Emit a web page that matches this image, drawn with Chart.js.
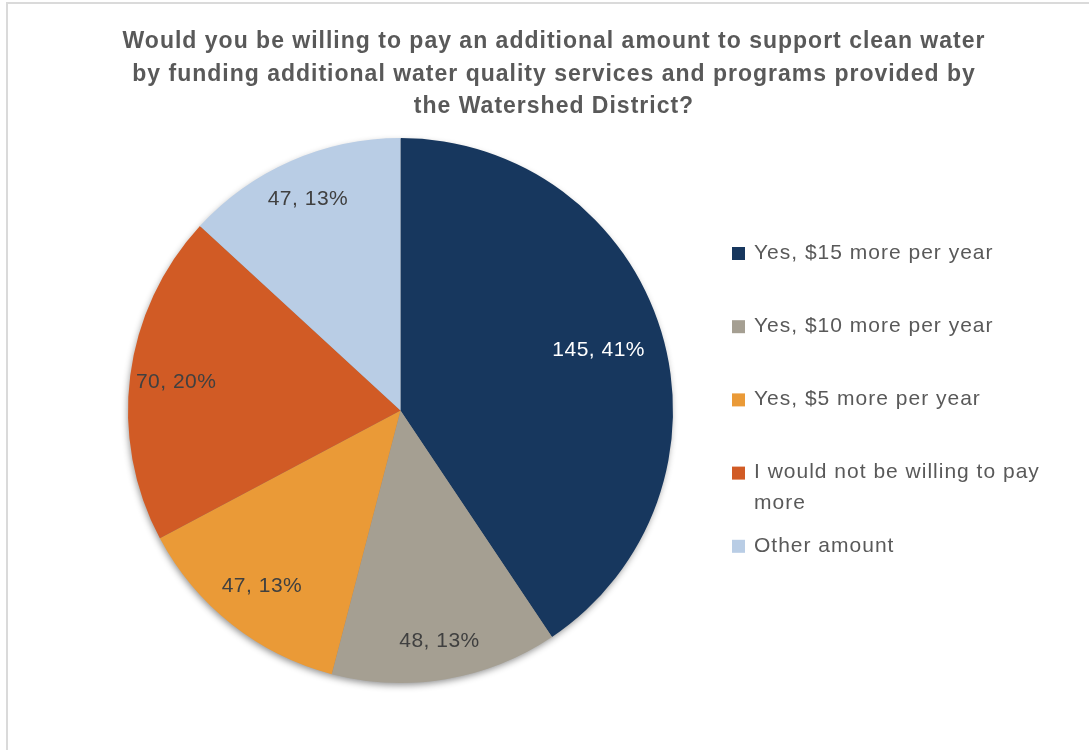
<!DOCTYPE html>
<html lang="en">
  <head>
    <meta charset="UTF-8" />
    <title>Willingness to pay for clean water</title>
    <script src="https://cdn.jsdelivr.net/npm/chart.js"></script>
    <style>
      html, body {
        margin: 0;
        padding: 0;
        background: #fff;
        overflow: hidden;
      }
      .wrap {
        position: relative;
        width: 1089px;
        height: 750px;
      }
      .frame {
        position: absolute;
        left: 6px;
        top: 2px;
        right: -10px;
        bottom: -10px;
        border-top: 2px solid #dadada;
        border-left: 2px solid #dadada;
        pointer-events: none;
      }
      canvas {
        position: absolute;
        left: 0;
        top: 0;
      }
    </style>
  </head>
  <body>
    <div class="wrap">
      <canvas id="pieChart" width="1089" height="750"></canvas>
      <div class="frame"></div>
    </div>

    <script>
      // survey answers
      const titleLines = [
        "Would you be willing to pay an additional amount to support clean water",
        "by funding additional water quality services and programs provided by",
        "the Watershed District?"
      ];
      const answers = [
        "Yes, $15 more per year",
        "Yes, $10 more per year",
        "Yes, $5 more per year",
        "I would not be willing to pay more",
        "Other amount"
      ];
      const counts = [145, 48, 47, 70, 47];

      const sliceColors = ["#17375e", "#a59f92", "#ea9a37", "#d15b25", "#b9cde5"];
      const labelColors = ["#ffffff", "#404040", "#404040", "#404040", "#404040"];
      // how far out (fraction of radius) each value label sits
      const labelDist = [0.76, 0.86, 0.82, 0.83, 0.845];

      const total = counts.reduce((a, b) => a + b, 0);
      const FONT = "'Liberation Sans', Arial, sans-serif";

      // soft shadow under the whole pie, drawn before the slices
      const pieShadow = {
        id: "pieShadow",
        beforeDatasetsDraw(chart) {
          const arc = chart.getDatasetMeta(0).data[0];
          if (!arc) return;
          const ctx = chart.ctx;
          ctx.save();
          ctx.shadowColor = "rgba(0, 0, 0, 0.45)";
          ctx.shadowBlur = 7;
          ctx.shadowOffsetX = -1;
          ctx.shadowOffsetY = 3;
          ctx.fillStyle = "#888";
          ctx.beginPath();
          ctx.arc(arc.x, arc.y, arc.outerRadius - 1, 0, Math.PI * 2);
          ctx.fill();
          ctx.restore();
        }
      };

      // "count, percent" inside each slice
      const valueLabels = {
        id: "valueLabels",
        afterDatasetsDraw(chart) {
          const ctx = chart.ctx;
          const meta = chart.getDatasetMeta(0);
          ctx.save();
          ctx.font = "21px " + FONT;
          ctx.letterSpacing = "0.5px";
          ctx.textAlign = "center";
          ctx.textBaseline = "middle";
          meta.data.forEach((arc, i) => {
            const mid = (arc.startAngle + arc.endAngle) / 2;
            const r = arc.outerRadius * labelDist[i];
            const pct = Math.round((counts[i] / total) * 100);
            ctx.fillStyle = labelColors[i];
            ctx.fillText(counts[i] + ", " + pct + "%", arc.x + Math.cos(mid) * r, arc.y + Math.sin(mid) * r);
          });
          ctx.restore();
        }
      };

      function wrapText(ctx, text, maxWidth) {
        const words = text.split(" ");
        const lines = [];
        let line = "";
        words.forEach(w => {
          const test = line ? line + " " + w : w;
          if (ctx.measureText(test).width > maxWidth && line) {
            lines.push(line);
            line = w;
          } else {
            line = test;
          }
        });
        lines.push(line);
        return lines;
      }

      // title on top, legend on the right
      const sideText = {
        id: "sideText",
        afterDraw(chart) {
          const ctx = chart.ctx;
          ctx.save();

          ctx.fillStyle = "#595959";
          ctx.font = "bold 23px " + FONT;
          ctx.letterSpacing = "1px";
          ctx.textAlign = "center";
          ctx.textBaseline = "middle";
          titleLines.forEach((t, i) => ctx.fillText(t, 554, 42 + i * 32.5));

          ctx.font = "21px " + FONT;
          ctx.letterSpacing = "1px";
          ctx.textAlign = "left";
          answers.forEach((a, i) => {
            const y = 253 + i * 73.2;
            ctx.fillStyle = sliceColors[i];
            ctx.fillRect(732, y - 6, 13, 13);
            ctx.fillStyle = "#595959";
            wrapText(ctx, a, 305).forEach((ln, j) => ctx.fillText(ln, 754, y + j * 31));
          });

          ctx.restore();
        }
      };

      new Chart(document.getElementById("pieChart"), {
        type: "pie",
        data: {
          labels: answers,
          datasets: [{
            data: counts,
            backgroundColor: sliceColors,
            borderWidth: 0
          }]
        },
        options: {
          responsive: false,
          animation: false,
          layout: {
            padding: { left: 128, top: 138, right: 416, bottom: 67 }
          },
          plugins: {
            legend: { display: false },
            title: { display: false },
            tooltip: { enabled: false }
          }
        },
        plugins: [pieShadow, valueLabels, sideText]
      });
    </script>
  </body>
</html>
